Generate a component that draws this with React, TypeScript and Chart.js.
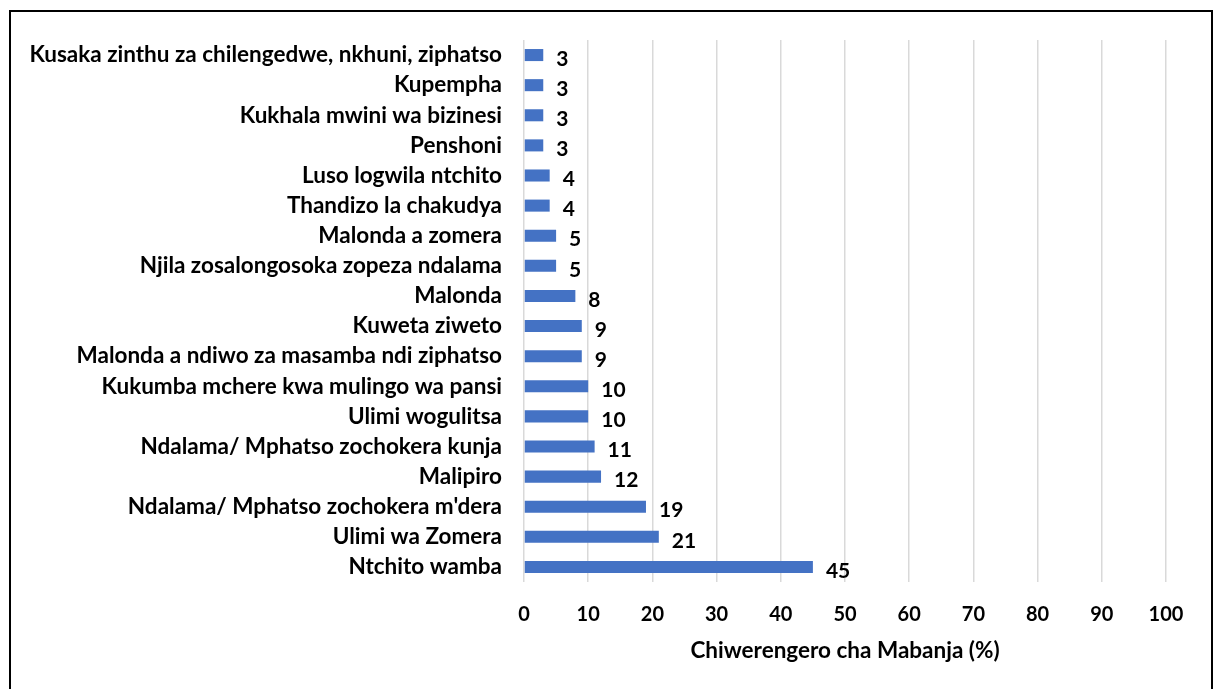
import React, { useEffect, useRef } from "react";
import { Chart, registerables } from "chart.js";

Chart.register(...registerables);

const categories: string[] = [
  "Kusaka zinthu za chilengedwe, nkhuni, ziphatso",
  "Kupempha",
  "Kukhala mwini wa bizinesi",
  "Penshoni",
  "Luso logwila ntchito",
  "Thandizo la chakudya",
  "Malonda a zomera",
  "Njila zosalongosoka zopeza ndalama",
  "Malonda",
  "Kuweta ziweto",
  "Malonda a ndiwo za masamba ndi ziphatso",
  "Kukumba mchere kwa mulingo wa pansi",
  "Ulimi wogulitsa",
  "Ndalama/ Mphatso zochokera kunja",
  "Malipiro",
  "Ndalama/ Mphatso zochokera m'dera",
  "Ulimi wa Zomera",
  "Ntchito wamba",
];

const values: number[] = [3, 3, 3, 3, 4, 4, 5, 5, 8, 9, 9, 10, 10, 11, 12, 19, 21, 45];

const xTicks: number[] = [0, 10, 20, 30, 40, 50, 60, 70, 80, 90, 100];

const axisTitle = "Chiwerengero cha Mabanja (%)";

const FONT = "Lato, 'Open Sans', sans-serif";

const borderPlugin = {
  id: "outerBorder",
  beforeDraw(chart: any) {
    const ctx = chart.ctx;
    ctx.save();
    ctx.fillStyle = "#ffffff";
    ctx.fillRect(0, 0, chart.width, chart.height);
    ctx.strokeStyle = "#000000";
    ctx.lineWidth = 2;
    ctx.strokeRect(10, 11, 1202, 720);
    ctx.restore();
  },
};

const valueLabelPlugin = {
  id: "valueLabels",
  afterDatasetsDraw(chart: any) {
    const ctx = chart.ctx;
    const meta = chart.getDatasetMeta(0);
    ctx.save();
    ctx.font = `bold 21px ${FONT}`;
    ctx.fillStyle = "#000000";
    ctx.textAlign = "left";
    ctx.textBaseline = "middle";
    meta.data.forEach((bar: any, i: number) => {
      const v = chart.data.datasets[0].data[i];
      ctx.fillText(String(v), bar.x + 13, bar.y + 4);
    });
    ctx.restore();
  },
};

export default function App() {
  const canvasRef = useRef<HTMLCanvasElement | null>(null);

  useEffect(() => {
    document.body.style.margin = "0";
    const canvas = canvasRef.current;
    if (!canvas) return;
    const chart = new Chart(canvas, {
      type: "bar",
      data: {
        labels: categories,
        datasets: [
          {
            data: values,
            backgroundColor: "#4472C4",
            borderWidth: 0,
            barPercentage: 0.4,
            categoryPercentage: 1,
          },
        ],
      },
      options: {
        indexAxis: "y",
        animation: false,
        responsive: false,
        maintainAspectRatio: false,
        layout: { padding: { top: 40, right: 50, bottom: 0, left: 0 } },
        plugins: {
          legend: { display: false },
          tooltip: { enabled: false },
        },
        scales: {
          x: {
            type: "linear",
            min: 0,
            max: 100,
            afterBuildTicks(scale: any) {
              scale.ticks = xTicks.map((v) => ({ value: v }));
            },
            afterFit(scale: any) {
              scale.height = 107;
            },
            grid: { color: "#d9d9d9", lineWidth: 1.5, drawTicks: false },
            border: { display: false },
            ticks: {
              padding: 21,
              color: "#000000",
              font: { family: FONT, size: 20, weight: "bold" },
            },
            title: {
              display: true,
              text: axisTitle,
              color: "#000000",
              font: { family: FONT, size: 22.5, weight: "bold" },
              padding: { top: 0, bottom: 25 },
            },
          },
          y: {
            afterFit(scale: any) {
              scale.width = 524;
            },
            grid: { display: false },
            border: { display: false },
            ticks: {
              padding: 14,
              autoSkip: false,
              color: "#000000",
              font: { family: FONT, size: 22.5, weight: "bold" },
            },
          },
        },
      },
      plugins: [borderPlugin, valueLabelPlugin],
    });
    return () => chart.destroy();
  }, []);

  return (
    <div style={{ position: "absolute", left: 0, top: 0, width: 1216, height: 689 }}>
      <canvas ref={canvasRef} width={1216} height={689} style={{ display: "block" }} />
    </div>
  );
}
